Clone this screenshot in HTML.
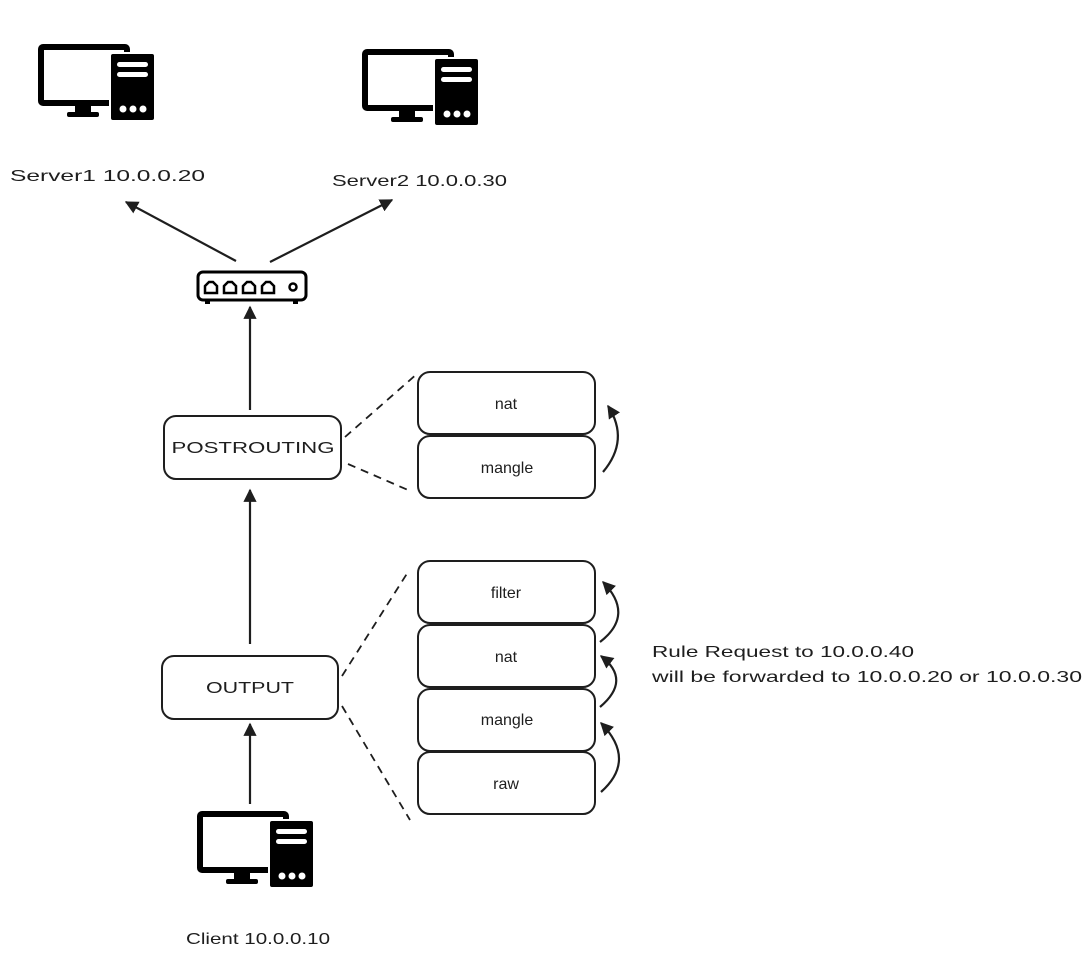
<!DOCTYPE html>
<html><head><meta charset="utf-8"><style>
html,body{margin:0;padding:0;background:#fff;}
svg{display:block;}
text{font-family:"Liberation Sans",sans-serif;fill:#1e1e1e;}
</style></head><body>
<svg width="1091" height="959" viewBox="0 0 1091 959" xmlns="http://www.w3.org/2000/svg">
<defs>
<g id="pc">
  <rect x="3" y="3" width="86" height="56" fill="none" stroke="#000" stroke-width="6" rx="2"/>
  <rect x="37" y="60" width="16" height="10" fill="#000"/>
  <rect x="29" y="68" width="32" height="5" rx="2" fill="#000"/>
  <rect x="72" y="9" width="45" height="68" rx="3" fill="#000" stroke="#fff" stroke-width="2"/>
  <rect x="79" y="18" width="31" height="5" rx="2.5" fill="#fff"/>
  <rect x="79" y="28" width="31" height="5" rx="2.5" fill="#fff"/>
  <circle cx="85" cy="65" r="3.5" fill="#fff"/>
  <circle cx="95" cy="65" r="3.5" fill="#fff"/>
  <circle cx="105" cy="65" r="3.5" fill="#fff"/>
</g>
<marker id="ah" viewBox="0 0 10 10" refX="9" refY="5" markerWidth="6" markerHeight="6" orient="auto-start-reverse" markerUnits="strokeWidth">
  <path d="M0,0 L10,5 L0,10 z" fill="#1e1e1e"/>
</marker>
</defs>

<use href="#pc" x="38" y="44"/>
<use href="#pc" x="362" y="49"/>
<use href="#pc" x="197" y="811"/>

<text x="10" y="181" font-size="16" textLength="195" lengthAdjust="spacingAndGlyphs">Server1 10.0.0.20</text>
<text x="332" y="186" font-size="16" textLength="175" lengthAdjust="spacingAndGlyphs">Server2 10.0.0.30</text>
<text x="186" y="944" font-size="16" textLength="144" lengthAdjust="spacingAndGlyphs">Client 10.0.0.10</text>

<!-- switch -->
<rect x="198" y="272" width="108" height="28" rx="5" fill="#fff" stroke="#000" stroke-width="3"/>
<rect x="205" y="300" width="5" height="4" fill="#000"/>
<rect x="293" y="300" width="5" height="4" fill="#000"/>
<g fill="none" stroke="#000" stroke-width="2.5">
<path d="M205,293 v-7 l4,-4 h4 l4,4 v7 z"/>
<path d="M224,293 v-7 l4,-4 h4 l4,4 v7 z"/>
<path d="M243,293 v-7 l4,-4 h4 l4,4 v7 z"/>
<path d="M262,293 v-7 l4,-4 h4 l4,4 v7 z"/>
<circle cx="293" cy="287" r="3.5"/>
</g>

<g stroke="#1e1e1e" stroke-width="2.2" fill="none">
<line x1="236" y1="261" x2="126" y2="202" marker-end="url(#ah)"/>
<line x1="270" y1="262" x2="392" y2="200" marker-end="url(#ah)"/>
<line x1="250" y1="410" x2="250" y2="307" marker-end="url(#ah)"/>
<line x1="250" y1="644" x2="250" y2="490" marker-end="url(#ah)"/>
<line x1="250" y1="804" x2="250" y2="724" marker-end="url(#ah)"/>
</g>

<g stroke="#1e1e1e" stroke-width="2" fill="#fff">
<rect x="164" y="416" width="177" height="63" rx="12"/>
<rect x="162" y="656" width="176" height="63" rx="12"/>
<rect x="418" y="372" width="177" height="62" rx="12"/>
<rect x="418" y="436" width="177" height="62" rx="12"/>
<rect x="418" y="561" width="177" height="62" rx="12"/>
<rect x="418" y="625" width="177" height="62" rx="12"/>
<rect x="418" y="689" width="177" height="62" rx="12"/>
<rect x="418" y="752" width="177" height="62" rx="12"/>
</g>

<g stroke="#1e1e1e" stroke-width="1.8" stroke-dasharray="8,6" fill="none">
<line x1="345" y1="437" x2="418" y2="373"/>
<line x1="348" y1="464" x2="408" y2="490"/>
<line x1="342" y1="676" x2="408" y2="572"/>
<line x1="342" y1="706" x2="410" y2="820"/>
</g>

<g stroke="#1e1e1e" stroke-width="2.2" fill="none">
<path d="M603,472 Q630,440 608,406" marker-end="url(#ah)"/>
<path d="M600,642 Q635,615 603,582" marker-end="url(#ah)"/>
<path d="M600,707 Q632,680 601,656" marker-end="url(#ah)"/>
<path d="M601,792 Q637,760 601,723" marker-end="url(#ah)"/>
</g>

<g font-size="16" text-anchor="middle">
<text x="253" y="453" textLength="163" lengthAdjust="spacingAndGlyphs">POSTROUTING</text>
<text x="250" y="693" textLength="88" lengthAdjust="spacingAndGlyphs">OUTPUT</text>
<text x="506" y="409">nat</text>
<text x="507" y="473">mangle</text>
<text x="506" y="598">filter</text>
<text x="506" y="662">nat</text>
<text x="507" y="725">mangle</text>
<text x="506" y="789">raw</text>
</g>
<text x="652" y="657" font-size="16" textLength="262" lengthAdjust="spacingAndGlyphs">Rule Request to 10.0.0.40</text>
<text x="652" y="682" font-size="16" textLength="430" lengthAdjust="spacingAndGlyphs">will be forwarded to 10.0.0.20 or 10.0.0.30</text>
</svg>
</body></html>
